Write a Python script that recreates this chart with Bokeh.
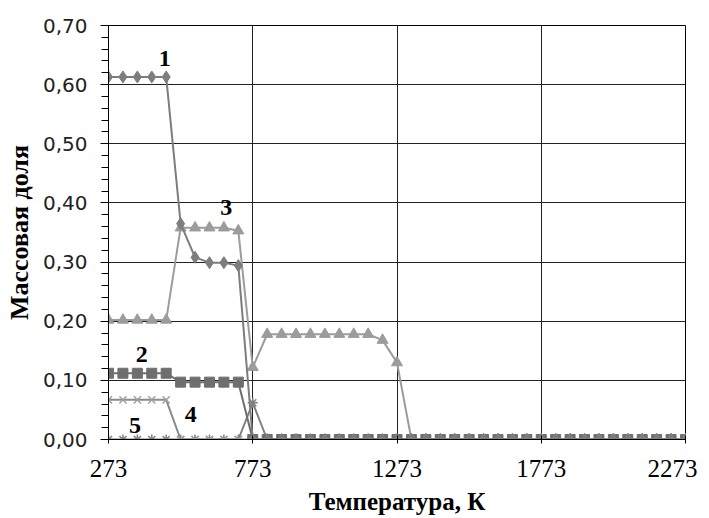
from bokeh.plotting import figure
from bokeh.models import FixedTicker, CustomJSTickFormatter, Range1d, ColumnDataSource
from bokeh.core.properties import value
from bokeh.embed import file_html
from bokeh.resources import INLINE

temps = [273, 323, 373, 423, 473, 523, 573, 623, 673, 723, 773, 823, 873, 923, 973,
         1023, 1073, 1123, 1173, 1223, 1273, 1323, 1373, 1423, 1473, 1523, 1573, 1623,
         1673, 1723, 1773, 1823, 1873, 1923, 1973, 2023, 2073, 2123, 2173, 2223, 2273]

s1 = [0.613, 0.613, 0.613, 0.613, 0.613, 0.365, 0.308, 0.299, 0.299, 0.294,
      0, 0, 0, 0, 0, 0, 0, 0, 0, 0, 0, 0, 0, 0, 0, 0, 0, 0, 0, 0, 0,
      0, 0, 0, 0, 0, 0, 0, 0, 0, 0]
s2 = [0.112, 0.112, 0.112, 0.112, 0.112, 0.097, 0.097, 0.097, 0.097, 0.097,
      0, 0, 0, 0, 0, 0, 0, 0, 0, 0, 0, 0, 0, 0, 0, 0, 0, 0, 0, 0, 0,
      0, 0, 0, 0, 0, 0, 0, 0, 0, 0]
s3 = [0.202, 0.202, 0.202, 0.202, 0.202, 0.358, 0.358, 0.358, 0.358, 0.353,
      0.122, 0.178, 0.178, 0.178, 0.178, 0.178, 0.178, 0.178, 0.178, 0.168, 0.130,
      0, 0, 0, 0, 0, 0, 0, 0, 0, 0, 0, 0, 0, 0, 0, 0, 0, 0, 0, 0]
s4 = [0.067, 0.067, 0.067, 0.067, 0.067, 0, 0, 0, 0, 0,
      0, 0, 0, 0, 0, 0, 0, 0, 0, 0, 0, 0, 0, 0, 0, 0, 0, 0, 0, 0, 0,
      0, 0, 0, 0, 0, 0, 0, 0, 0, 0]
s5 = [0, 0, 0, 0, 0, 0, 0, 0, 0, 0,
      0.062, 0, 0, 0, 0, 0, 0, 0, 0, 0, 0, 0, 0, 0, 0, 0, 0, 0, 0, 0, 0,
      0, 0, 0, 0, 0, 0, 0, 0, 0, 0]

x_ticks = [273, 773, 1273, 1773, 2273]
y_ticks = [0.0, 0.1, 0.2, 0.3, 0.4, 0.5, 0.6, 0.7]

label_text = ["1", "2", "3", "4", "5"]
label_x = [468, 388, 681, 558, 365]
label_y = [0.645, 0.143, 0.392, 0.043, 0.024]

p = figure(frame_width=577, frame_height=414, output_backend="svg", toolbar_location=None,
           x_range=Range1d(273, 2273), y_range=Range1d(0, 0.70))
p.min_border_left = 108
p.min_border_right = 12
p.min_border_top = 25
p.min_border_bottom = 71
p.outline_line_color = "#000000"
p.outline_line_width = 1

# grid
p.xgrid.ticker = FixedTicker(ticks=x_ticks)
p.ygrid.ticker = FixedTicker(ticks=y_ticks)
p.xgrid.grid_line_color = "#222222"
p.ygrid.grid_line_color = "#222222"

# x axis
p.xaxis.ticker = FixedTicker(ticks=x_ticks)
p.xaxis.major_label_text_font = "Liberation Serif"
p.xaxis.major_label_text_font_size = "25px"
p.xaxis.major_label_text_color = "#000000"
p.xaxis.axis_label = "Температура, К"
p.xaxis.axis_label_text_font = "Liberation Serif"
p.xaxis.axis_label_text_font_style = "bold"
p.xaxis.axis_label_text_font_size = "25px"
p.xaxis.axis_label_text_color = "#000000"
p.xaxis.axis_label_standoff = 8
p.xaxis.axis_line_color = "#000000"
p.xaxis.major_tick_in = 4
p.xaxis.major_tick_out = 4
p.xaxis.minor_tick_line_color = None
p.xaxis.major_label_standoff = 16

# y axis
p.yaxis.ticker = FixedTicker(ticks=y_ticks,
                             minor_ticks=[i * 0.02 for i in range(36)])
p.yaxis.formatter = CustomJSTickFormatter(code="return tick.toFixed(2).replace('.', ',');")
p.yaxis.major_label_text_font = "DejaVu Sans"
p.yaxis.major_label_text_font_size = "20px"
p.yaxis.major_label_text_color = "#222222"
p.yaxis.axis_label = "Массовая доля"
p.yaxis.axis_label_text_font = "Liberation Serif"
p.yaxis.axis_label_text_font_style = "bold"
p.yaxis.axis_label_text_font_size = "26px"
p.yaxis.axis_label_text_color = "#000000"
p.yaxis.axis_label_standoff = 6
p.yaxis.axis_line_color = "#000000"
p.yaxis.major_tick_in = 0
p.yaxis.major_tick_out = 8
p.yaxis.minor_tick_in = 0
p.yaxis.minor_tick_out = 7
p.yaxis.minor_tick_line_color = "#000000"
p.yaxis.major_label_standoff = 13

src = ColumnDataSource(dict(t=temps, s1=s1, s2=s2, s3=s3, s4=s4, s5=s5))

c1, c2, c3, c4, c5 = "#7d7d7d", "#6e6e6e", "#9c9c9c", "#8a8a8a", "#808080"

p.line("t", "s5", source=src, line_color=c5, line_width=2)
p.scatter("t", "s5", source=src, marker="asterisk", size=10, line_color=c5, line_width=1.5)
p.line("t", "s4", source=src, line_color=c4, line_width=2)
p.scatter("t", "s4", source=src, marker="x", size=10, line_color="#a0a0a0", line_width=1.5)
p.line("t", "s2", source=src, line_color=c2, line_width=2)
p.scatter("t", "s2", source=src, marker="square", size=10, fill_color=c2, line_color=c2)
p.line("t", "s3", source=src, line_color=c3, line_width=2)
p.scatter("t", "s3", source=src, marker="triangle", size=11, fill_color=c3, line_color=c3)
p.line("t", "s1", source=src, line_color=c1, line_width=2)
p.scatter("t", "s1", source=src, marker="diamond", size=12, fill_color=c1, line_color=c1)

p.text(x=label_x, y=label_y, text=label_text, text_font=value("Liberation Serif"),
       text_font_style="bold", text_font_size="24px", text_color="#000000",
       text_align="center", text_baseline="middle")

open("out.html", "w").write(file_html(p, INLINE))
